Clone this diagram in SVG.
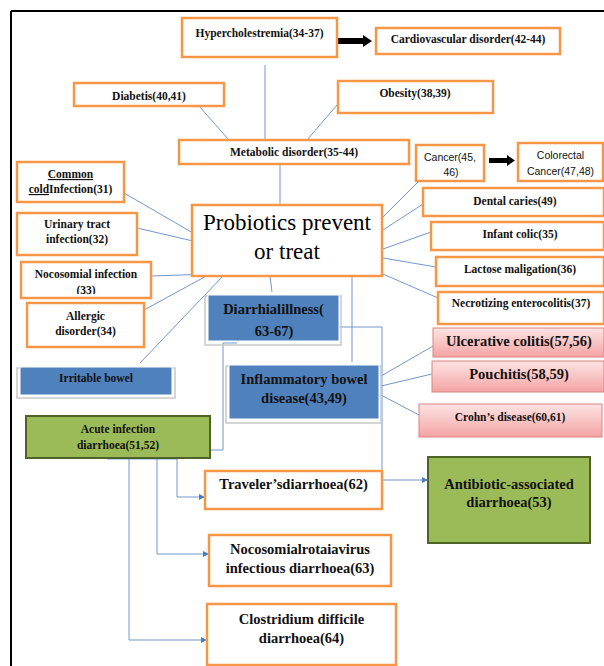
<svg xmlns="http://www.w3.org/2000/svg" width="604" height="666" viewBox="0 0 604 666">
<defs>
<linearGradient id="pink" x1="0" y1="0" x2="0" y2="1">
<stop offset="0" stop-color="#fde3e3"/>
<stop offset="0.5" stop-color="#f9c4c4"/>
<stop offset="1" stop-color="#f4a3a3"/>
</linearGradient>
<marker id="ah" viewBox="0 0 10 10" refX="10" refY="5" markerWidth="6" markerHeight="6" orient="auto" markerUnits="userSpaceOnUse">
<path d="M0,0 L10,5 L0,10 z" fill="#4a7ebb"/>
</marker>
<clipPath id="clipNoco"><rect x="21" y="262" width="130" height="32"/></clipPath>
</defs>
<style>
.ob{fill:#fff;stroke:#f79646;stroke-width:2.5}
.bb{fill:#4f81bd;stroke:#fff;stroke-width:1}
.bs{fill:none;stroke:#c8c8c8;stroke-width:1.5}
.gb{fill:#9bbb59;stroke:#4f6228;stroke-width:2}
.pb{fill:url(#pink);stroke:#d9837f;stroke-width:1}
.t{font-family:"Liberation Serif","Times New Roman",serif;font-weight:bold;font-size:11.5px;fill:#111;text-anchor:middle}
.tl{font-family:"Liberation Serif","Times New Roman",serif;font-weight:bold;font-size:14.5px;fill:#111;text-anchor:middle}
.ts{font-family:"Liberation Sans",Arial,sans-serif;font-size:10.5px;fill:#111;text-anchor:middle}
.c{fill:none;stroke:#7098d0;stroke-width:1}
</style>
<rect width="604" height="666" fill="#fff"/>
<path d="M11,11 H604 M11,11 V666" fill="none" stroke="#000" stroke-width="2"/>

<g id="connectors">
<path class="c" d="M265,65 V140"/>
<path class="c" d="M199,106 L229,140"/>
<path class="c" d="M337,105 L307,140"/>
<path class="c" d="M280,164 V205"/>
<path class="c" d="M124,193 L193,233"/>
<path class="c" d="M137,228 L193,241"/>
<path class="c" d="M151,276 L211,274"/>
<path class="c" d="M144,310 L210,274"/>
<path class="c" d="M140,363 L223,276"/>
<path class="c" d="M270,276 L272,292"/>
<path class="c" d="M352,276 V362"/>
<path class="c" d="M383,217 L418,182"/>
<path class="c" d="M383,230 L423,204"/>
<path class="c" d="M383,249 L431,232"/>
<path class="c" d="M383,258 L436,267"/>
<path class="c" d="M383,274 L438,298"/>
<path class="c" d="M381,376 L433,346"/>
<path class="c" d="M381,386 L432,374"/>
<path class="c" d="M381,395 L419,415"/>
<path class="c" d="M237,343 H223 V450 H210"/>
<path class="c" d="M333,327 H382 V480 H428" marker-end="url(#ah)"/>
<path class="c" d="M107,459 H177 V497 H205" marker-end="url(#ah)"/>
<path class="c" d="M157,459 V554 H209" marker-end="url(#ah)"/>
<path class="c" d="M51,455 H129 V640 H207" marker-end="url(#ah)"/>
<path d="M336,38 H363 V35 L372,41 L363,47 V44 H336 z" fill="#000"/>
<path d="M489,158 H507 V155 L515,160.5 L507,166 V163 H489 z" fill="#000"/>
</g>

<g id="hyper">
<rect class="ob" x="182" y="18" width="155" height="39"/>
<text class="t" x="259.5" y="37">Hypercholestremia(34-37)</text>
</g>
<g id="cardio">
<rect class="ob" x="376" y="28" width="184" height="26"/>
<text class="t" x="468" y="43">Cardiovascular disorder(42-44)</text>
</g>
<g id="diabetis">
<rect class="ob" x="74" y="83" width="150" height="23"/>
<text class="t" x="149" y="100">Diabetis(40,41)</text>
</g>
<g id="obesity">
<rect class="ob" x="338" y="81" width="155" height="32"/>
<text class="t" x="415" y="97">Obesity(38,39)</text>
</g>
<g id="metabolic">
<rect class="ob" x="179" y="140" width="230" height="24"/>
<text class="t" x="294" y="156">Metabolic disorder(35-44)</text>
</g>
<g id="cancer">
<rect class="ob" x="416" y="145" width="68" height="36"/>
<text class="ts" x="450" y="161">Cancer(45,</text>
<text class="ts" x="451" y="176">46)</text>
</g>
<g id="colorectal">
<rect class="ob" x="518" y="143" width="85" height="38"/>
<text class="ts" x="560.5" y="159">Colorectal</text>
<text class="ts" x="560.5" y="175">Cancer(47,48)</text>
</g>
<g id="commoncold">
<rect class="ob" x="17" y="162" width="107" height="40"/>
<text class="t" x="70.5" y="178"><tspan text-decoration="underline">Common</tspan></text>
<text class="t" x="70.5" y="193"><tspan text-decoration="underline">cold</tspan>Infection(31)</text>
</g>
<g id="urinary">
<rect class="ob" x="17" y="213" width="120" height="42"/>
<text class="t" x="77" y="228">Urinary tract</text>
<text class="t" x="77" y="243">infection(32)</text>
</g>
<g id="nocosomial">
<rect class="ob" x="21" y="262" width="130" height="36"/>
<text class="t" x="86" y="278">Nocosomial infection</text>
<text class="t" x="86" y="294" clip-path="url(#clipNoco)">(33)</text>
</g>
<g id="allergic">
<rect class="ob" x="27" y="303" width="117" height="44"/>
<text class="t" x="85.5" y="320">Allergic</text>
<text class="t" x="85.5" y="335">disorder(34)</text>
</g>
<g id="irritable">
<rect class="bs" x="17" y="368" width="158" height="30"/>
<rect class="bb" x="20" y="367" width="152" height="28"/>
<text class="t" x="96" y="382">Irritable bowel</text>
</g>
<g id="probiotics">
<rect class="ob" x="192" y="205" width="190" height="71"/>
<text x="287" y="230" font-family="'Liberation Serif','Times New Roman',serif" font-size="23" fill="#000" text-anchor="middle">Probiotics prevent</text>
<text x="287" y="259" font-family="'Liberation Serif','Times New Roman',serif" font-size="23" fill="#000" text-anchor="middle">or treat</text>
</g>
<g id="diarrhial">
<rect class="bs" x="205" y="296" width="136" height="49"/>
<rect class="bb" x="208" y="295" width="131" height="46"/>
<text class="tl" x="273.5" y="314" font-size="15.5">Diarrhialillness(</text>
<text class="tl" x="274" y="336" font-size="15.5">63-67)</text>
</g>
<g id="ibd">
<rect class="bs" x="226" y="366" width="155" height="57"/>
<rect class="bb" x="229" y="365" width="150" height="54"/>
<text class="tl" x="304" y="384" font-size="14">Inflammatory bowel</text>
<text class="tl" x="304" y="403" font-size="14">disease(43,49)</text>
</g>
<g id="dental">
<rect class="ob" x="423" y="188" width="181" height="28"/>
<text class="t" x="515" y="205">Dental caries(49)</text>
</g>
<g id="infant">
<rect class="ob" x="431" y="222" width="173" height="28"/>
<text class="t" x="520" y="238">Infant colic(35)</text>
</g>
<g id="lactose">
<rect class="ob" x="436" y="257" width="168" height="29"/>
<text class="t" x="520" y="273">Lactose maligation(36)</text>
</g>
<g id="necrotizing">
<rect class="ob" x="438" y="292" width="166" height="32"/>
<text class="t" x="521" y="307">Necrotizing enterocolitis(37)</text>
</g>
<g id="ulcerative">
<rect class="pb" x="433" y="328" width="171" height="29"/>
<text class="tl" x="519" y="346">Ulcerative colitis(57,56)</text>
</g>
<g id="pouchitis">
<rect class="pb" x="432" y="361" width="172" height="31"/>
<text class="tl" x="519" y="379">Pouchitis(58,59)</text>
</g>
<g id="crohn">
<rect class="pb" x="419" y="404" width="183" height="33"/>
<text class="t" x="510" y="421">Crohn’s disease(60,61)</text>
</g>
<g id="acute">
<rect class="gb" x="26" y="416" width="184" height="42"/>
<text class="t" x="118" y="433" font-size="12.5">Acute infection</text>
<text class="t" x="118" y="449" font-size="12.5">diarrhoea(51,52)</text>
</g>
<g id="traveler">
<rect class="ob" x="205" y="471" width="177" height="38"/>
<text class="tl" x="293.5" y="489">Traveler’sdiarrhoea(62)</text>
</g>
<g id="antibiotic">
<rect class="gb" x="428" y="457" width="162" height="86"/>
<text class="tl" x="509" y="489">Antibiotic-associated</text>
<text class="tl" x="509" y="507">diarrhoea(53)</text>
</g>
<g id="rotavirus">
<rect class="ob" x="209" y="535" width="182" height="51"/>
<text class="tl" x="300" y="554">Nocosomialrotaiavirus</text>
<text class="tl" x="300" y="573">infectious diarrhoea(63)</text>
</g>
<g id="clostridium">
<rect class="ob" x="207" y="604" width="189" height="61"/>
<text class="tl" x="301.5" y="624">Clostridium difficile</text>
<text class="tl" x="301.5" y="643">diarrhoea(64)</text>
</g>
</svg>
